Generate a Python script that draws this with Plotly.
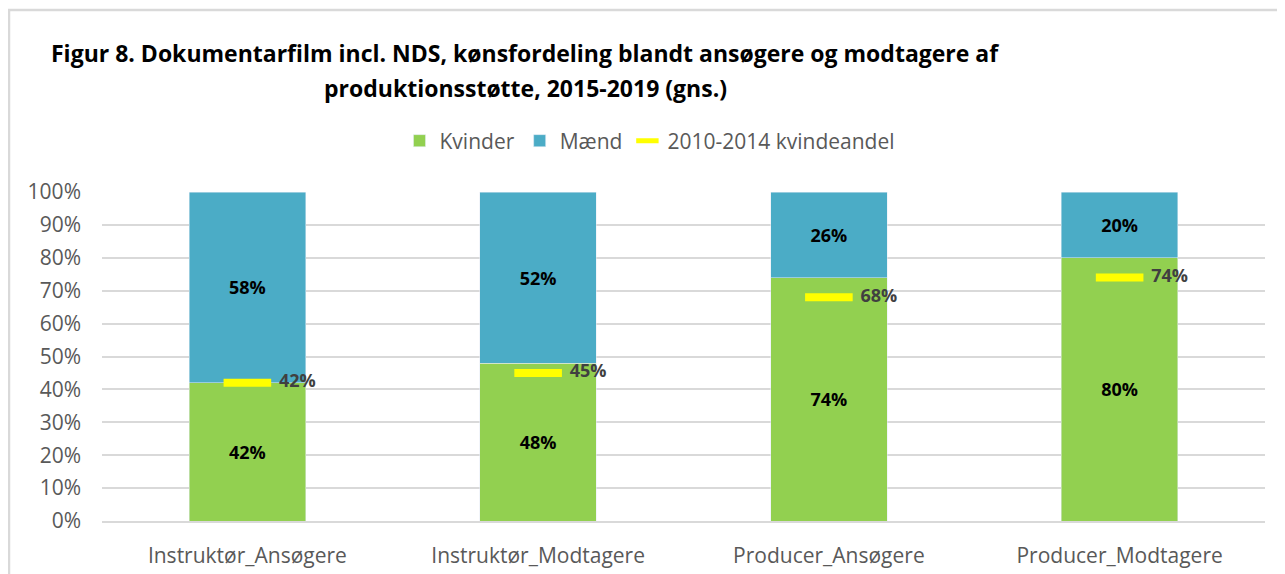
import plotly.graph_objects as go

categories = ["Instruktør_Ansøgere", "Instruktør_Modtagere", "Producer_Ansøgere", "Producer_Modtagere"]
kvinder = [0.42, 0.48, 0.74, 0.80]
maend = [0.58, 0.52, 0.26, 0.20]
kvindeandel_2010_2014 = [0.42, 0.45, 0.68, 0.74]
y_ticks = [0, 0.1, 0.2, 0.3, 0.4, 0.5, 0.6, 0.7, 0.8, 0.9, 1.0]

GREEN = "#92D050"
BLUE = "#4BACC6"
YELLOW = "#FFFF00"
AXIS_GRAY = "#595959"
FONT = "Open Sans"

# page body has an 8px margin -> figure coordinates are page coordinates minus 8
OFF = 8
PLOT_L, PLOT_R, PLOT_T, PLOT_B = 102, 1265, 192, 521  # page px
PW, PH = PLOT_R - PLOT_L, PLOT_B - PLOT_T


def px_x(px):
    return (px - PLOT_L) / PW


def px_y(py):
    return (PLOT_B - py) / PH


fig = go.Figure()
fig.add_trace(go.Bar(
    name="Kvinder", x=categories, y=kvinder, marker_color=GREEN,
    texttemplate="%{y:.0%}", textposition="inside", insidetextanchor="middle",
    textfont=dict(family=FONT, size=18, color="black", weight="bold"),
    hoverinfo="skip",
))
fig.add_trace(go.Bar(
    name="Mænd", x=categories, y=maend, marker_color=BLUE,
    texttemplate="%{y:.0%}", textposition="inside", insidetextanchor="middle",
    textfont=dict(family=FONT, size=18, color="black", weight="bold"),
    hoverinfo="skip",
))
fig.add_trace(go.Scatter(
    name="2010-2014 kvindeandel", x=categories, y=kvindeandel_2010_2014,
    mode="markers+text",
    marker=dict(symbol="line-ew", size=34, color=YELLOW, line=dict(color=YELLOW, width=8)),
    texttemplate="  %{y:.0%}", textposition="middle right",
    textfont=dict(family=FONT, size=18, color="#404040", weight="bold"),
    hoverinfo="skip",
))

title_font = dict(family=FONT, size=23, color="black", weight="bold")
fig.add_annotation(text="Figur 8. Dokumentarfilm incl. NDS, kønsfordeling blandt ansøgere og modtagere af",
                   xref="paper", yref="paper", x=px_x(525), y=px_y(53),
                   xanchor="center", yanchor="middle", showarrow=False, font=title_font)
fig.add_annotation(text="produktionsstøtte, 2015-2019 (gns.)",
                   xref="paper", yref="paper", x=px_x(525), y=px_y(88),
                   xanchor="center", yanchor="middle", showarrow=False, font=title_font)

# outer chart frame (light gray)
fig.add_shape(type="rect", xref="paper", yref="paper",
              x0=px_x(9), x1=1.3, y0=-1, y1=px_y(10),
              line=dict(color="#D9D9D9", width=2.5), layer="below")

fig.update_layout(
    width=1285 - OFF, height=574 - OFF,
    margin=dict(l=PLOT_L - OFF, r=(1285 - OFF) - (PLOT_R - OFF), t=PLOT_T - OFF,
                b=(574 - OFF) - (PLOT_B - OFF), autoexpand=False),
    barmode="stack", bargap=0.6,
    plot_bgcolor="white", paper_bgcolor="white",
    font=dict(family=FONT, color=AXIS_GRAY, size=21),
    showlegend=True,
    legend=dict(orientation="h", traceorder="normal", x=px_x(650), xanchor="center",
                y=px_y(141), yanchor="middle",
                font=dict(family=FONT, size=21, color=AXIS_GRAY),
                bgcolor="rgba(0,0,0,0)", itemwidth=30),
    uniformtext=dict(mode="show", minsize=10),
)
fig.update_yaxes(range=[0, 1], tickvals=y_ticks, tickformat=".0%",
                 showgrid=True, gridcolor="#D9D9D9", gridwidth=2,
                 zeroline=False, showline=False, ticks="",
                 ticklabelstandoff=20, tickfont=dict(size=21, color=AXIS_GRAY))
fig.update_xaxes(showline=True, linecolor="#D9D9D9", linewidth=2, ticks="",
                 ticklabelstandoff=15, tickfont=dict(size=21, color=AXIS_GRAY))

fig.write_html("out.html")
